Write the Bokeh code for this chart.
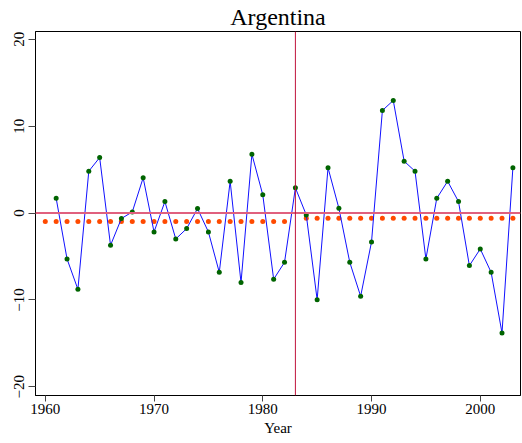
from bokeh.plotting import figure
from bokeh.models import Range1d, Span, FixedTicker
from bokeh.embed import file_html
from bokeh.resources import INLINE

years = list(range(1961, 2004))
growth = [1.70, -5.28, -8.78, 4.82, 6.39, -3.71, -0.63, 0.13, 4.06, -2.17,
          1.32, -2.98, -1.79, 0.52, -2.17, -6.82, 3.66, -8.00, 6.77, 2.10,
          -7.62, -5.67, 2.90, -0.21, -9.97, 5.21, 0.55, -5.67, -9.58, -3.32,
          11.81, 12.96, 5.97, 4.82, -5.28, 1.70, 3.66, 1.32, -6.05, -4.13,
          -6.82, -13.80, 5.21]

pre_years = list(range(1960, 1983))
pre_mean = [-0.98] * len(pre_years)
post_years = list(range(1984, 2004))
post_mean = [-0.60] * len(post_years)

break_year = 1983
x_ticks = [1960, 1970, 1980, 1990, 2000]
y_ticks = [-20, -10, 0, 10, 20]
title_text = "Argentina"
x_label = "Year"

FONT = "Liberation Serif"
X0, X1 = 1959.1, 2003.7
Y0, Y1 = -21.0, 20.9

p = figure(width=522, height=443, output_backend="svg", toolbar_location=None,
           x_range=Range1d(X0, X1), y_range=Range1d(Y0, Y1),
           min_border_left=35, min_border_right=2, min_border_top=31,
           min_border_bottom=48, title=title_text)
p.title.align = "center"
p.title.text_font = FONT
p.title.text_font_size = "24px"
p.title.text_font_style = "normal"
p.title.text_color = "black"
p.title.standoff = 3

p.background_fill_color = "white"
p.border_fill_color = "white"
p.outline_line_color = "black"
p.outline_line_width = 1
p.xgrid.visible = False
p.ygrid.visible = False

for ax in (p.xaxis[0], p.yaxis[0]):
    ax.axis_line_color = "black"
    ax.major_tick_line_color = "#444444"
    ax.major_tick_in = 0
    ax.minor_tick_line_color = None
    ax.major_label_text_font = FONT
    ax.major_label_text_font_size = "15px"
    ax.major_label_text_color = "black"

p.xaxis.ticker = FixedTicker(ticks=x_ticks)
p.yaxis.ticker = FixedTicker(ticks=y_ticks)
p.xaxis.major_tick_out = 6
p.xaxis.major_label_standoff = 2
p.yaxis.major_tick_out = 7
p.yaxis.major_label_standoff = 4
p.yaxis.major_label_orientation = "vertical"
p.xaxis.axis_label = x_label
p.xaxis.axis_label_text_font = FONT
p.xaxis.axis_label_text_font_size = "15px"
p.xaxis.axis_label_text_font_style = "normal"
p.xaxis.axis_label_text_color = "black"
p.xaxis.axis_label_standoff = 3

p.add_layout(Span(location=0, dimension="width", line_color="#e0607e", line_width=2))
p.add_layout(Span(location=break_year, dimension="height", line_color="#c0143c", line_width=1))

p.scatter(pre_years, pre_mean, size=5, color="#ff4a00", line_color=None)
p.scatter(post_years, post_mean, size=5, color="#ff4a00", line_color=None)

p.line(years, growth, line_color="#1010ff", line_width=1)
p.scatter(years, growth, size=5, color="#006400", line_color=None)

open("out.html", "w").write(file_html(p, INLINE))
